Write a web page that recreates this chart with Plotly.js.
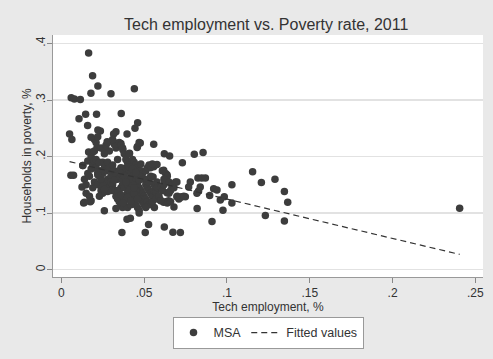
<!DOCTYPE html>
<html>
<head>
<meta charset="utf-8">
<script src="https://cdn.plot.ly/plotly-3.0.1.min.js"></script>
<style>html,body{margin:0;padding:0;background:#e9e9e9;}#chart{width:493px;height:359px;}</style>
</head>
<body>
<div id="chart"></div>
<script>
// MSA points: tech employment share (x) and households in poverty share (y)
const msaX = [
  0.0165,0.0189,0.0221,0.0179,0.030,0.0441,0.006,0.0079,0.0115,0.0107,0.0147,0.0213,0.0362,0.0159,0.0461,0.0445,
  0.005,0.0064,0.0221,0.0236,0.033,0.0316,0.0397,0.018,0.020,0.0277,0.0326,0.036,0.0477,0.0558,0.0458,0.0216,0.0257,
  0.0372,0.0412,0.0165,0.0622,0.0654,0.0803,0.0856,0.0731,0.0058,0.0074,0.0130,0.0125,0.0135,0.0175,0.026,
  0.0366,0.0507,0.0527,0.0622,0.0674,0.0719,0.0397,0.0417,0.0562,0.068,0.082,0.091,0.0976,0.103,0.103,0.096,
  0.094,0.092,0.0896,0.0984,0.1155,0.1208,0.129,0.1347,0.1367,0.1232,0.1347,0.2405,0.0825,0.0848,0.087,0.0779,
  0.0769,0.0839,0.0829,0.0819,0.0698,0.0668,0.0698,0.0728,0.0749,0.0648,0.0618,0.0598,0.0638,0.0608,0.0618,0.0638,
  0.0628,0.0578,0.0554,0.0558,0.0578,0.0538,
  // dense cluster
  0.013,0.014,0.015,0.016,0.017,0.015,0.017,0.018,0.019,0.016,0.018,0.019,0.020,0.018,0.020,0.014,0.019,0.020,
  0.021,0.022,0.023,0.022,0.024,0.025,0.023,0.021,0.022,0.024,0.025,0.026,0.027,0.028,0.029,0.027,0.026,0.028,0.029,0.027,0.026,0.030,0.030,0.024,0.025,0.021,0.023,0.028,0.029,0.030,0.025,
  0.031,0.032,0.033,0.034,0.031,0.032,0.033,0.034,0.035,0.036,0.037,0.033,0.035,0.036,0.037,0.038,0.039,0.036,0.035,0.034,0.033,0.032,0.035,0.036,0.037,0.038,0.039,0.040,0.031,0.038,0.039,0.040,0.037,0.039,0.040,0.034,0.038,0.040,
  0.041,0.042,0.043,0.044,0.045,0.046,0.047,0.048,0.049,0.050,0.041,0.042,0.043,0.044,0.045,0.046,0.047,0.047,0.042,0.041,0.043,0.044,0.045,0.046,0.048,0.049,0.050,0.046,0.048,0.049,0.050,0.045,0.047,0.043,0.041,0.048,0.046,0.047,
  0.051,0.052,0.053,0.054,0.055,0.051,0.052,0.053,0.054,0.055,0.056,0.057,0.051,0.052,0.053,0.051,0.052,0.054,0.056,0.058,0.055,0.053,0.057,
  0.060,0.061,0.062,0.063,0.064,0.065,0.066,0.061,0.063,0.064,0.062,0.065,0.067,0.068,0.059,0.060,0.066,0.070,0.071,0.072,0.074,0.069,
  0.034,0.036,0.038,0.040,0.042,0.044,0.036,0.038,0.041,0.043,0.045,0.047,0.030,0.032,0.028,0.026,0.024,0.022,0.044,0.046,0.039,0.037
];
const msaY = [
  0.383,0.343,0.325,0.312,0.311,0.320,0.304,0.302,0.301,0.267,0.275,0.275,0.276,0.255,0.260,0.250,
  0.240,0.230,0.247,0.245,0.244,0.240,0.240,0.234,0.230,0.226,0.224,0.223,0.224,0.222,0.216,0.216,0.213,
  0.212,0.206,0.208,0.205,0.201,0.204,0.207,0.189,0.167,0.167,0.184,0.146,0.118,0.120,0.104,
  0.0656,0.0656,0.080,0.0756,0.066,0.0656,0.089,0.091,0.110,0.111,0.108,0.085,0.105,0.150,0.118,0.123,
  0.141,0.143,0.131,0.129,0.173,0.154,0.160,0.138,0.119,0.0957,0.0862,0.1087,0.162,0.162,0.162,0.155,
  0.146,0.146,0.139,0.135,0.155,0.146,0.129,0.129,0.129,0.122,0.119,0.123,0.136,0.143,0.176,0.168,
  0.160,0.155,0.164,0.182,0.186,0.180,
  // dense cluster
  0.184,0.160,0.150,0.170,0.165,0.135,0.130,0.122,0.145,0.192,0.200,0.208,0.210,0.178,0.155,0.119,0.185,0.192,
  0.180,0.172,0.165,0.150,0.140,0.135,0.130,0.225,0.235,0.215,0.190,0.185,0.175,0.160,0.150,0.145,0.155,0.190,0.210,0.220,0.205,0.175,0.165,0.160,0.148,0.195,0.190,0.225,0.180,0.155,0.170,
  0.185,0.175,0.165,0.160,0.150,0.140,0.130,0.125,0.120,0.115,0.110,0.108,0.135,0.145,0.150,0.170,0.180,0.180,0.175,0.195,0.215,0.222,0.225,0.220,0.215,0.205,0.195,0.190,0.230,0.130,0.125,0.135,0.160,0.160,0.110,0.140,0.145,0.150,
  0.175,0.170,0.165,0.160,0.155,0.150,0.145,0.140,0.135,0.130,0.140,0.130,0.125,0.120,0.115,0.110,0.105,0.100,0.115,0.205,0.195,0.190,0.185,0.180,0.175,0.170,0.160,0.130,0.125,0.120,0.115,0.140,0.165,0.150,0.160,0.187,0.218,0.225,
  0.175,0.180,0.185,0.183,0.187,0.150,0.145,0.140,0.135,0.130,0.140,0.138,0.125,0.120,0.115,0.110,0.160,0.165,0.150,0.145,0.120,0.155,0.125,
  0.145,0.140,0.150,0.120,0.118,0.135,0.140,0.175,0.170,0.165,0.160,0.155,0.150,0.145,0.130,0.122,0.120,0.130,0.125,0.128,0.130,0.155,
  0.128,0.132,0.120,0.128,0.122,0.135,0.170,0.165,0.182,0.178,0.172,0.158,0.140,0.158,0.138,0.142,0.175,0.168,0.145,0.125,0.155,0.118
];
// Fitted values (linear fit endpoints)
const fitX = [0.005, 0.2405];
const fitY = [0.191, 0.027];

const xTickVals = [0, 0.05, 0.1, 0.15, 0.2, 0.25];
const xTickText = ['0', '.05', '.1', '.15', '.2', '.25'];
const yTickVals = [0, 0.1, 0.2, 0.3, 0.4];
const yTickText = ['0', '.1', '.2', '.3', '.4'];

const font = 'Liberation Sans, Arial, sans-serif';

const traces = [
  {
    x: msaX, y: msaY, type: 'scatter', mode: 'markers', name: 'MSA',
    marker: {color: '#3d3d3d', size: 7.5, line: {width: 0}}
  },
  {
    x: fitX, y: fitY, type: 'scatter', mode: 'lines', name: 'Fitted values',
    line: {color: '#333333', width: 1.2, dash: '6px,4px'}
  }
];

const layout = {
  width: 493, height: 359,
  paper_bgcolor: '#e9e9e9',
  plot_bgcolor: '#ffffff',
  margin: {l: 53, r: 10, t: 35, b: 82, autoexpand: false},
  font: {family: font, color: '#333333', size: 12},
  title: {text: 'Tech employment vs. Poverty rate, 2011', x: 0.54, xanchor: 'center', y: 0.931, yanchor: 'middle',
          font: {family: font, size: 16, color: '#333333'}},
  showlegend: true,
  legend: {
    orientation: 'h', x: 0.5, xanchor: 'center', y: -0.165, yanchor: 'top',
    bgcolor: '#ffffff', bordercolor: '#999999', borderwidth: 1,
    font: {family: font, size: 12.5, color: '#333333'},
    itemwidth: 30, traceorder: 'normal', tracegroupgap: 0
  },
  xaxis: {
    range: [-0.005, 0.2546],
    tickvals: xTickVals, ticktext: xTickText,
    ticks: 'outside', ticklen: 5, tickcolor: '#888888', tickwidth: 1,
    showline: true, linecolor: '#999999', linewidth: 1,
    showgrid: false, zeroline: false,
    tickfont: {family: font, size: 12, color: '#333333'},
    title: {text: 'Tech employment, %', font: {family: font, size: 12, color: '#333333'}, standoff: 3}
  },
  yaxis: {
    range: [-0.013, 0.415],
    tickvals: yTickVals, ticktext: yTickText,
    tickangle: -90,
    ticklabelstandoff: -3,
    ticks: 'outside', ticklen: 5, tickcolor: '#888888', tickwidth: 1,
    showline: true, linecolor: '#999999', linewidth: 1,
    showgrid: true, gridcolor: '#e2e2e2', gridwidth: 1.5, zeroline: false,
    tickfont: {family: font, size: 12, color: '#333333'},
    title: {text: 'Households in poverty, %', font: {family: font, size: 12, color: '#333333'}, standoff: 0}
  }
};

Plotly.newPlot('chart', traces, layout, {displayModeBar: false, staticPlot: true});
</script>
</body>
</html>
